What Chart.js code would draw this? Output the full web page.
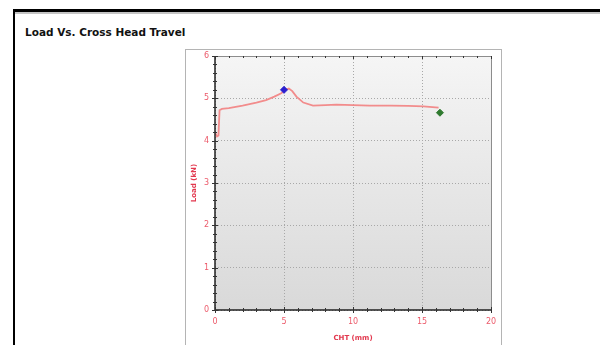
<!DOCTYPE html>
<html>
<head>
<meta charset="utf-8">
<script src="https://cdn.jsdelivr.net/npm/chart.js@4/dist/chart.umd.min.js"></script>
<style>
  body { margin: 0; background: #fff; width: 600px; height: 345px; overflow: hidden; position: relative; font-family: "DejaVu Sans", Verdana, sans-serif; }
  #frame { position: absolute; left: 13px; top: 9px; width: 700px; height: 400px; border-left: 2px solid #000; border-top: 3px solid #000; }
  #frame .inner { border-top: 2px solid #c4c4c4; }
  #title { position: absolute; left: 25px; top: 26px; font-size: 10.5px; font-weight: bold; color: #111; }
  #panel { position: absolute; left: 185px; top: 49px; width: 315px; height: 400px; border: 1px solid #b4b4b4; background: #fff; }
  #wrap { position: absolute; left: 186px; top: 50px; width: 314px; height: 295px; }
</style>
</head>
<body>
<div id="frame"><div class="inner"></div></div>
<div id="title">Load Vs. Cross Head Travel</div>
<div id="panel"></div>
<div id="wrap"><canvas id="myChart"></canvas></div>
<script>
// cross head travel (mm) and load (kN)
var cht  = [0, 0.15, 0.25, 0.33, 0.5, 1, 2, 3, 3.7, 4.3, 4.8, 5.1, 5.35, 5.6, 5.9, 6.4, 7.1, 8, 8.8, 10, 11.2, 12.7, 14, 15.1, 16.2];
var load = [4.19, 4.1, 4.12, 4.72, 4.75, 4.77, 4.83, 4.9, 4.96, 5.04, 5.12, 5.2, 5.23, 5.17, 5.04, 4.9, 4.83, 4.84, 4.85, 4.84, 4.83, 4.83, 4.82, 4.81, 4.78];
var peakPoint  = [{x: 5.0, y: 5.2}];
var breakPoint = [{x: 16.3, y: 4.66}];
var xMax = 20, yMax = 6;

var curve = cht.map(function (v, i) { return {x: v, y: load[i]}; });

var plotDeco = {
  id: "plotDeco",
  beforeDraw: function (chart) {
    var a = chart.chartArea, ctx = chart.ctx;
    var g = ctx.createLinearGradient(0, a.top, 0, a.bottom);
    g.addColorStop(0, "#f5f5f5");
    g.addColorStop(1, "#d9d9d9");
    ctx.save();
    ctx.fillStyle = g;
    ctx.fillRect(a.left, a.top, a.right - a.left, a.bottom - a.top);
    ctx.restore();
  },
  afterDatasetsDraw: function (chart) {
    var a = chart.chartArea, ctx = chart.ctx;
    var xs = chart.scales.x, ys = chart.scales.y;
    ctx.save();
    // top and right frame
    ctx.strokeStyle = "#8c8c8c";
    ctx.lineWidth = 1;
    ctx.beginPath();
    ctx.moveTo(a.left, a.top + 0.5); ctx.lineTo(a.right + 0.5, a.top + 0.5); ctx.lineTo(a.right + 0.5, a.bottom);
    ctx.stroke();
    // axes
    ctx.strokeStyle = "#222";
    ctx.lineWidth = 1.5;
    ctx.beginPath();
    ctx.moveTo(a.left, a.top); ctx.lineTo(a.left, a.bottom); ctx.lineTo(a.right + 1, a.bottom);
    ctx.stroke();
    // minor ticks
    ctx.lineWidth = 1;
    ctx.strokeStyle = "#333";
    ctx.beginPath();
    for (var v = 0; v <= xMax + 0.001; v += 1) {
      var px = Math.round(xs.getPixelForValue(v)) + 0.5;
      var len = (v % 5 === 0) ? 3 : 2;
      ctx.moveTo(px, a.bottom - len); ctx.lineTo(px, a.bottom + len);
      ctx.moveTo(px, a.top); ctx.lineTo(px, a.top + len);
    }
    for (var k = 0; k <= yMax * 5; k++) {
      var py = Math.round(ys.getPixelForValue(k / 5)) + 0.5;
      var l2 = (k % 5 === 0) ? 3 : 2;
      ctx.moveTo(a.left - l2, py); ctx.lineTo(a.left + l2, py);
    }
    ctx.stroke();
    ctx.restore();
  }
};

new Chart("myChart", {
  type: "scatter",
  data: {
    datasets: [{
      data: curve,
      showLine: true,
      borderColor: "#f28c8c",
      borderWidth: 1.8,
      pointRadius: 0,
      tension: 0,
      order: 2
    }, {
      data: peakPoint,
      pointStyle: "rectRot",
      pointRadius: 3.5,
      backgroundColor: "#2a1fd0",
      borderColor: "#2a1fd0",
      order: 1
    }, {
      data: breakPoint,
      pointStyle: "rectRot",
      pointRadius: 3.5,
      backgroundColor: "#2f7a2f",
      borderColor: "#2f7a2f",
      order: 1
    }]
  },
  options: {
    responsive: true,
    maintainAspectRatio: false,
    animation: false,
    layout: {padding: {top: 6, right: 9, left: 0, bottom: 0}},
    plugins: {legend: {display: false}, tooltip: {enabled: false}},
    scales: {
      x: {
        type: "linear", min: 0, max: xMax,
        ticks: {stepSize: 5, color: "#ec5a6a", padding: 7, font: {family: "DejaVu Sans", size: 8}},
        grid: {color: "#a8a8a8", drawTicks: false},
        border: {display: false, dash: [1, 2]},
        title: {display: true, text: "CHT (mm)", color: "#e2384e", font: {family: "DejaVu Sans", size: 7, weight: "bold"}, padding: {top: 0, bottom: 3}},
        afterFit: function (s) { s.height = 35; s.paddingLeft = 0; s.paddingRight = 0; }
      },
      y: {
        type: "linear", min: 0, max: yMax,
        ticks: {stepSize: 1, color: "#ec5a6a", padding: 6, font: {family: "DejaVu Sans", size: 8}},
        grid: {color: "#a8a8a8", drawTicks: false},
        border: {display: false, dash: [1, 2]},
        title: {display: true, text: "Load (kN)", color: "#e2384e", font: {family: "DejaVu Sans", size: 7, weight: "bold"}, padding: {top: 4, bottom: 0}},
        afterFit: function (s) { s.width = 29; s.paddingTop = 0; s.paddingBottom = 0; }
      }
    }
  },
  plugins: [plotDeco]
});
</script>
</body>
</html>
